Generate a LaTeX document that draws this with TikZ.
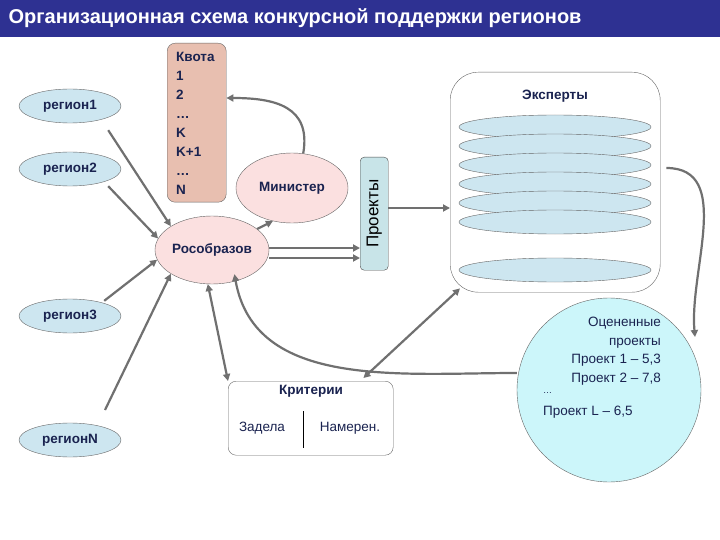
\documentclass[tikz,border=0pt]{standalone}
\usepackage{fontspec}
\setmainfont{Liberation Sans}
\usetikzlibrary{shapes.geometric,arrows.meta,calc}
\definecolor{navy}{HTML}{2E3192}
\definecolor{tx}{HTML}{1A2350}
\definecolor{reg}{HTML}{CDE6F0}
\definecolor{pinkf}{HTML}{FBE0E0}
\definecolor{kvf}{HTML}{E8BFB0}
\definecolor{prf}{HTML}{C8E4E8}
\definecolor{cyanf}{HTML}{CCF6FA}
\definecolor{arr}{HTML}{707070}
\begin{document}
\begin{tikzpicture}[x=1pt,y=-1pt,
  reg/.style={ellipse,draw=black!60,fill=reg,minimum width=102pt,minimum height=34pt,inner sep=0pt,text=tx,font=\bfseries\fontsize{13.5}{16}\selectfont},
  pink/.style={ellipse,draw=black!60,fill=pinkf,inner sep=0pt,text=tx,font=\bfseries\fontsize{13.5}{16}\selectfont},
  exp/.style={ellipse,draw=black!60,fill=reg,minimum width=192pt,minimum height=24pt,inner sep=0pt},
  ar/.style={draw=arr,line width=2.2pt,-{Triangle[length=7pt,width=7pt]}},
  dar/.style={draw=arr,line width=2.2pt,{Triangle[length=7pt,width=7pt]}-{Triangle[length=7pt,width=7pt]}}]
\useasboundingbox (0,0) rectangle (720,540);
\fill[white] (0,0) rectangle (720,540);
\fill[navy] (0,0) rectangle (720,37);
\node[anchor=west,text=white,font=\bfseries\fontsize{20}{24}\selectfont] (title) at (5,18) {Организационная схема конкурсной поддержки регионов};

\node[reg] (r1) at (70,106) {регион1};
\node[reg] (r2) at (70,169) {регион2};
\node[reg] (r3) at (70,316) {регион3};
\node[reg] (rN) at (70,440) {регионN};

\node[draw=black!60,fill=kvf,rounded corners=8pt,minimum width=59pt,minimum height=159pt,anchor=north west,inner sep=0pt] (kv) at (167,43) {};
\node[anchor=north west,text=tx,font=\bfseries\fontsize{13.5}{19}\selectfont,align=left,inner sep=0pt] (kvt) at (176,52) {Квота\\1\\2\\…\\K\\K+1\\…\\N};

\node[pink,minimum width=112pt,minimum height=70pt] (min) at (292,188) {Министер};
\node[pink,minimum width=114pt,minimum height=68pt] (ros) at (212,250) {Рособразов};

\node[draw=black!70,fill=prf,rounded corners=4pt,minimum width=28pt,minimum height=113pt,anchor=north west,inner sep=0pt] (pr) at (360,157) {};
\node[rotate=90,font=\fontsize{17}{20}\selectfont] (prt) at (pr.center) {Проекты};

\node[draw=black!60,rounded corners=28pt,minimum width=210pt,minimum height=220pt,anchor=north west,inner sep=0pt] (ex) at (450,72) {};
\node[text=tx,font=\bfseries\fontsize{13.5}{16}\selectfont] (ext) at (555,96) {Эксперты};
\foreach \y/\n in {127/e1,146/e2,165/e3,184/e4,203/e5,222/e6,270/e7}
  \node[exp] (\n) at (555,\y) {};

\node[draw=black!60,rounded corners=8pt,minimum width=165pt,minimum height=74pt,anchor=north west,inner sep=0pt] (kr) at (228,381) {};
\node[text=tx,font=\bfseries\fontsize{13.5}{16}\selectfont] (krt) at (311,391) {Критерии};
\node[font=\fontsize{13.5}{16}\selectfont,text=tx] (zad) at (262,428) {Задела};
\node[font=\fontsize{13.5}{16}\selectfont,text=tx] (nam) at (350,428) {Намерен.};
\coordinate (d1) at (303,411); \coordinate (d2) at (303,448);
\draw[black] (d1) -- (d2);

\node[circle,draw=black!60,fill=cyanf,minimum size=184pt,inner sep=0pt] (oc) at (609,390) {};
\node[align=right,font=\fontsize{13.5}{18.5}\selectfont,text=tx,anchor=north east,inner sep=0pt] (oct) at (661,317) {Оцененные\\проекты\\Проект 1 – 5,3\\Проект 2 – 7,8};
\node[anchor=north west,font=\fontsize{9}{10}\selectfont,text=tx,inner sep=0pt] (dots) at (543,392) {…};
\node[anchor=north west,font=\fontsize{13.5}{16}\selectfont,text=tx,inner sep=0pt] (pl) at (543,406) {Проект L – 6,5};

\draw[ar] (r1.south east) ++(2,12) -- (ros.150);
\draw[ar] (r2.south east) ++(2,5) -- (ros.168);
\draw[ar] (r3.north east) ++(-2,-3) -- (ros.190);
\coordinate (rNs) at (105,410);
\draw[ar] (rNs) -- (ros.210);
\draw[dar] (ros.263) -- (kr.north west);
\draw[ar] (ros.25) -- (min.240);
\draw[ar] (min.72) to[out=80,in=0,looseness=1.3] (kv.east |- 0,98);
\draw[ar] (ros.east |- 0,248) -- (pr.west |- 0,248);
\draw[ar] (ros.east |- 0,258) -- (pr.west |- 0,258);
\draw[ar] (pr.east |- 0,208) -- (ex.west |- 0,208);
\coordinate (oct2) at (695,337);
\draw[ar] (ex.east |- 0,168) ++(6,0) to[out=0,in=95] (oct2);
\draw[ar] (oc.west) ++(0,-17) to[out=180,in=-80] ($(ros.south east)+(-18,0)$);
\draw[dar] ($(kr.north east)+(-30,-3)$) -- ($(ex.south west)+(10,-4)$);
\end{tikzpicture}
\end{document}
